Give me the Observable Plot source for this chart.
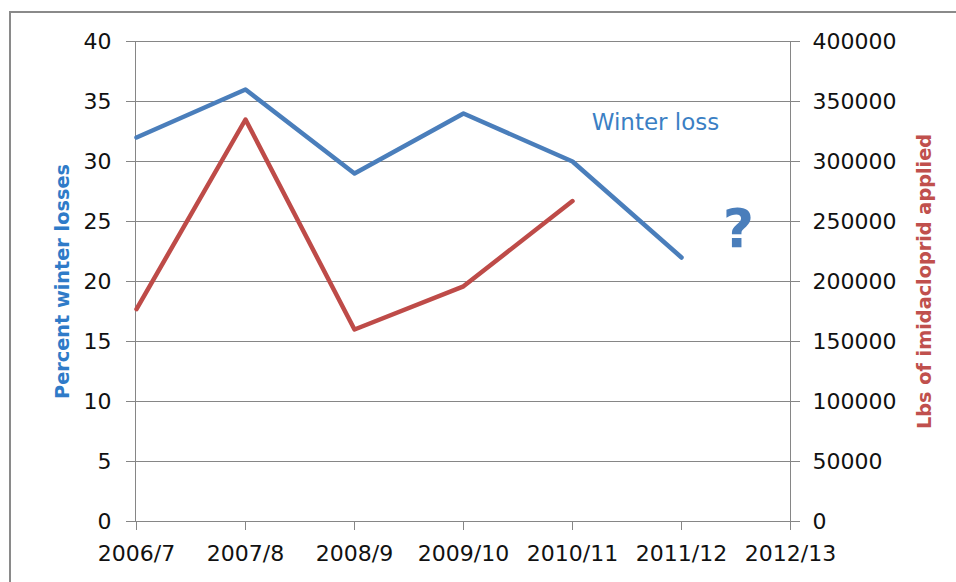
<!DOCTYPE html>
<html>
<head>
<meta charset="utf-8">
<script src="https://cdn.jsdelivr.net/npm/d3@7"></script>
<script src="https://cdn.jsdelivr.net/npm/@observablehq/plot@0.6"></script>
<style>
  html, body { margin: 0; padding: 0; background: #fff; }
  #wrap { position: relative; width: 956px; height: 582px; overflow: hidden; }
  #border { position: absolute; left: 9px; top: 11px; width: 1000px; height: 1000px;
            border-left: 2px solid #8a8a8a; border-top: 2px solid #8a8a8a; pointer-events: none; }
</style>
</head>
<body>
<div id="wrap"><div id="border"></div></div>
<script>
const seasons = ["2006/7", "2007/8", "2008/9", "2009/10", "2010/11", "2011/12", "2012/13"];
const winterLoss = [32, 36, 29, 34, 30, 22];            // percent, left axis
const imidacloprid = [177000, 335000, 160000, 196000, 267000]; // lbs, right axis
const leftTicks = [0, 5, 10, 15, 20, 25, 30, 35, 40];
const rightTicks = [0, 50000, 100000, 150000, 200000, 250000, 300000, 350000, 400000];
const RATIO = 10000; // right axis units per left axis unit

const lossData = winterLoss.map((v, i) => ({season: seasons[i], value: v}));
const imiData = imidacloprid.map((v, i) => ({season: seasons[i], value: v / RATIO}));

const gridColor = "#868686";
const blue = "#4A7EBB";
const red = "#BE4B48";

const chart = Plot.plot({
  width: 956,
  height: 582,
  marginLeft: 135,
  marginRight: 166,
  marginTop: 41,
  marginBottom: 61,
  style: {fontFamily: "DejaVu Sans", fontSize: "22px", color: "#111", background: "transparent"},
  x: {type: "point", domain: seasons, padding: 0},
  y: {domain: [0, 40]},
  marks: [
    Plot.gridY(leftTicks, {stroke: gridColor, strokeOpacity: 1, strokeWidth: 1}),
    Plot.frame({stroke: gridColor, strokeWidth: 1}),
    Plot.axisY(leftTicks, {anchor: "left", tickSize: 9, tickPadding: 15, stroke: gridColor, fill: "#111", label: null}),
    Plot.axisY(rightTicks.map(d => d / RATIO), {anchor: "right", tickSize: 9, tickPadding: 13, stroke: gridColor, fill: "#111",
      tickFormat: d => String(Math.round(d * RATIO)), label: null}),
    Plot.axisX({anchor: "bottom", tickSize: 9, tickPadding: 15, stroke: gridColor, fill: "#111", label: null}),
    Plot.line(imiData, {x: "season", y: "value", stroke: red, strokeWidth: 4.5}),
    Plot.line(lossData, {x: "season", y: "value", stroke: blue, strokeWidth: 4.5}),
    Plot.text(["Winter loss"], {x: () => "2010/11", y: () => 33.2, text: d => d, dx: 83,
      fill: "#3B7FC4", fontSize: 23, textAnchor: "middle"}),
    Plot.text(["?"], {x: () => "2011/12", y: () => 24.3, text: d => d, dx: 57,
      fill: blue, fontSize: 54, fontWeight: "bold", textAnchor: "middle"}),
    Plot.text(["Percent winter losses"], {frameAnchor: "left", textAnchor: "middle", lineAnchor: "middle",
      text: d => d, rotate: -90, dx: -73, fill: "#2F7BC8", fontSize: 19.3, fontWeight: "bold"}),
    Plot.text(["Lbs of imidacloprid applied"], {frameAnchor: "right", textAnchor: "middle", lineAnchor: "middle",
      text: d => d, rotate: -90, dx: 134, fill: "#C0504D", fontSize: 19.3, fontWeight: "bold"})
  ]
});
document.getElementById("wrap").prepend(chart);
</script>
</body>
</html>
